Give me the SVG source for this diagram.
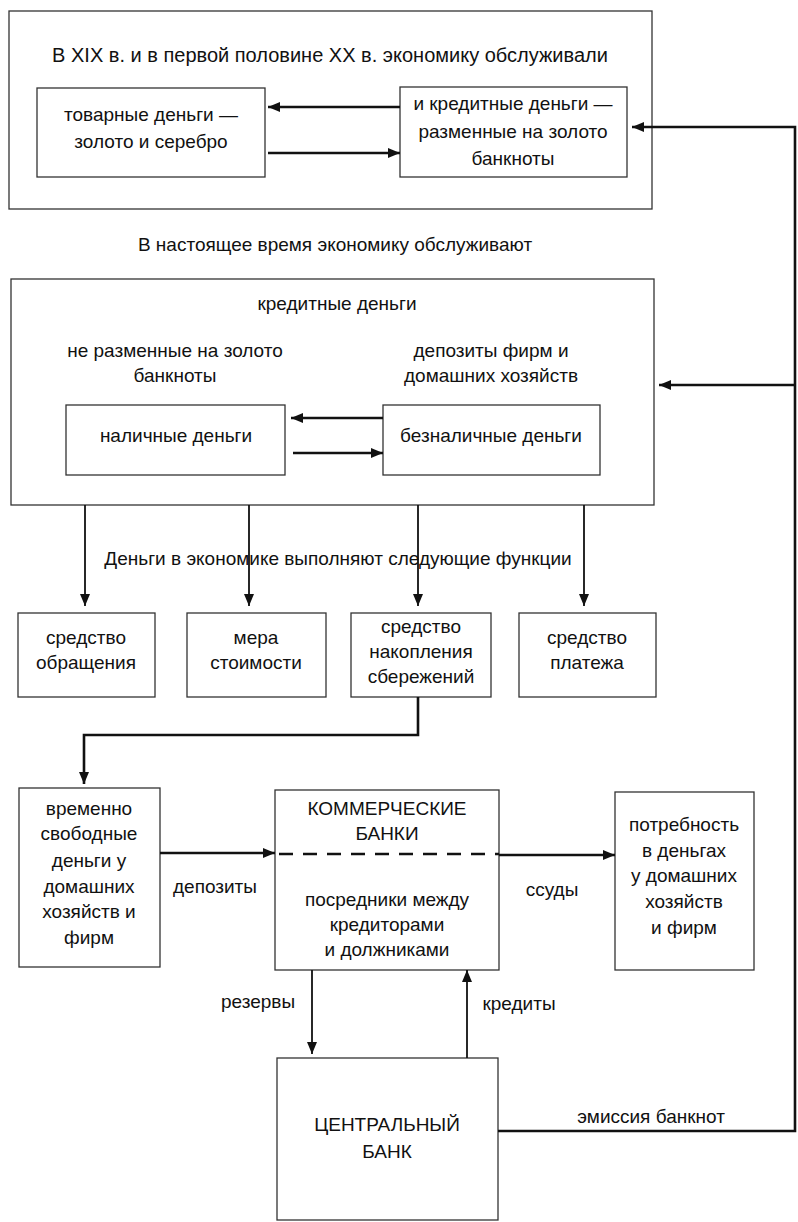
<svg xmlns="http://www.w3.org/2000/svg" width="798" height="1222" viewBox="0 0 798 1222">
<style>
text{font-family:"Liberation Sans",Arial,sans-serif;font-size:19px;fill:#111;text-anchor:middle}
.title{font-size:20px}
.box{fill:none;stroke:#333;stroke-width:1.3}
.c{fill:none;stroke:#111;stroke-width:2.6}
.thin{fill:none;stroke:#111;stroke-width:1.8}
.dash{fill:none;stroke:#111;stroke-width:2.6;stroke-dasharray:14 10}
</style>
<defs>
<marker id="ah" viewBox="0 0 12 10" refX="12" refY="5" markerWidth="12" markerHeight="10" markerUnits="userSpaceOnUse" orient="auto">
<path d="M0,0 L12,5 L0,10 z" fill="#111"/>
</marker>
</defs>
<rect width="798" height="1222" fill="#fff"/>

<g id="past">
<rect class="box" x="9" y="11" width="643" height="198"/>
<text class="title" x="330" y="62">В XIX в. и в первой половине XX в. экономику обслуживали</text>
</g>
<g id="commodity">
<rect class="box" x="37" y="88" width="228" height="89"/>
<text x="151" y="121">товарные деньги —</text>
<text x="151" y="148">золото и серебро</text>
</g>
<g id="credit-old">
<rect class="box" x="400" y="87" width="227" height="90"/>
<text x="513" y="110">и кредитные деньги —</text>
<text x="513" y="138">разменные на золото</text>
<text x="513" y="165">банкноты</text>
</g>

<text id="now" x="335" y="251">В настоящее время экономику обслуживают</text>

<g id="present">
<rect class="box" x="11" y="279" width="643" height="226"/>
<text x="337" y="310">кредитные деньги</text>
<text x="175" y="357">не разменные на золото</text>
<text x="175" y="382">банкноты</text>
<text x="491" y="357">депозиты фирм и</text>
<text x="491" y="382">домашних хозяйств</text>
</g>
<g id="cash">
<rect class="box" x="66" y="405" width="219" height="70"/>
<text x="176" y="442">наличные деньги</text>
</g>
<g id="noncash">
<rect class="box" x="383" y="405" width="217" height="70"/>
<text x="491" y="442">безналичные деньги</text>
</g>

<text id="functions" x="338" y="565">Деньги в экономике выполняют следующие функции</text>

<g id="f1">
<rect class="box" x="18" y="613" width="137" height="84"/>
<text x="86" y="644">средство</text>
<text x="86" y="669">обращения</text>
</g>
<g id="f2">
<rect class="box" x="187" y="613" width="139" height="84"/>
<text x="256" y="644">мера</text>
<text x="256" y="669">стоимости</text>
</g>
<g id="f3">
<rect class="box" x="351" y="613" width="140" height="84"/>
<text x="421" y="633">средство</text>
<text x="421" y="658">накопления</text>
<text x="421" y="683">сбережений</text>
</g>
<g id="f4">
<rect class="box" x="519" y="613" width="137" height="84"/>
<text x="587" y="644">средство</text>
<text x="587" y="669">платежа</text>
</g>

<g id="free-money">
<rect class="box" x="19" y="788" width="141" height="179"/>
<text x="89" y="815">временно</text>
<text x="89" y="840">свободные</text>
<text x="89" y="867">деньги у</text>
<text x="89" y="893">домашних</text>
<text x="89" y="918">хозяйств и</text>
<text x="89" y="944">фирм</text>
</g>
<g id="commercial-banks">
<rect class="box" x="275" y="790" width="224" height="180"/>
<text x="387" y="815">КОММЕРЧЕСКИЕ</text>
<text x="387" y="840">БАНКИ</text>
<text x="387" y="906">посредники между</text>
<text x="387" y="931">кредиторами</text>
<text x="387" y="956">и должниками</text>
</g>
<g id="need">
<rect class="box" x="615" y="792" width="139" height="178"/>
<text x="684" y="831">потребность</text>
<text x="684" y="857">в деньгах</text>
<text x="684" y="882">у домашних</text>
<text x="684" y="908">хозяйств</text>
<text x="684" y="934">и фирм</text>
</g>
<g id="central-bank">
<rect class="box" x="277" y="1058" width="221" height="162"/>
<text x="387" y="1131">ЦЕНТРАЛЬНЫЙ</text>
<text x="387" y="1158">БАНК</text>
</g>

<g id="connectors">
<line class="c" x1="400" y1="107" x2="268" y2="107" marker-end="url(#ah)"/>
<line class="c" x1="268" y1="153" x2="400" y2="153" marker-end="url(#ah)"/>
<line class="c" x1="383" y1="418" x2="291" y2="418" marker-end="url(#ah)"/>
<line class="c" x1="293" y1="453" x2="383" y2="453" marker-end="url(#ah)"/>
<line class="thin" x1="85" y1="505" x2="85" y2="606" marker-end="url(#ah)"/>
<line class="thin" x1="249" y1="505" x2="249" y2="606" marker-end="url(#ah)"/>
<line class="thin" x1="418" y1="505" x2="418" y2="606" marker-end="url(#ah)"/>
<line class="thin" x1="584" y1="505" x2="584" y2="606" marker-end="url(#ah)"/>
<polyline class="c" points="418,697 418,735 84,735 84,784" marker-end="url(#ah)"/>
<line class="c" x1="160" y1="853" x2="275" y2="853" marker-end="url(#ah)"/>
<line class="dash" x1="279" y1="854" x2="499" y2="854"/>
<line class="c" x1="499" y1="855" x2="615" y2="855" marker-end="url(#ah)"/>
<line class="thin" x1="312" y1="970" x2="312" y2="1054" marker-end="url(#ah)"/>
<line class="thin" x1="467" y1="1058" x2="467" y2="970" marker-end="url(#ah)"/>
<polyline class="c" points="498,1131 795,1131 795,127 632,127" marker-end="url(#ah)"/>
<line class="c" x1="795" y1="385" x2="659" y2="385" marker-end="url(#ah)"/>
</g>

<g id="labels">
<text x="215" y="893">депозиты</text>
<text x="552" y="896">ссуды</text>
<text x="258" y="1008">резервы</text>
<text x="519" y="1010">кредиты</text>
<text x="651" y="1123">эмиссия банкнот</text>
</g>
</svg>
